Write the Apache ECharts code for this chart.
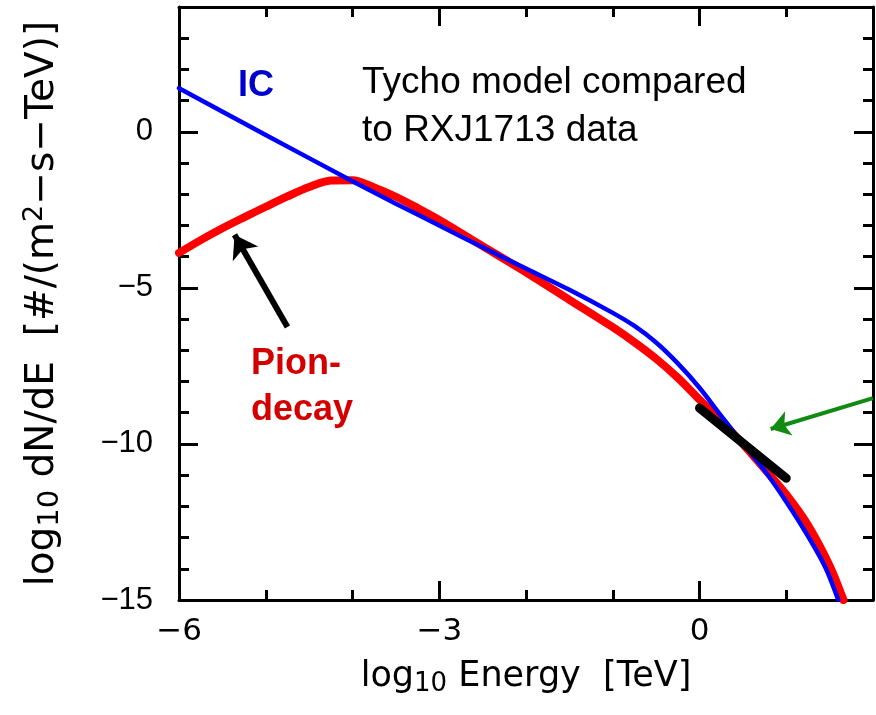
<!DOCTYPE html>
<html>
<head>
<meta charset="utf-8">
<script src="https://cdn.jsdelivr.net/npm/echarts@6/dist/echarts.min.js"></script>
<style>
  html, body { margin: 0; padding: 0; background: #fff; }
  #chart { width: 876px; height: 715px; }
</style>
</head>
<body>
<div id="chart"></div>
<script>
// Inverse-Compton spectrum: log10 E [TeV] vs log10 dN/dE
const icLogE = [-6.0, -5.0, -4.0, -3.5, -3.0, -2.5, -2.0, -1.5, -1.0, -0.75, -0.5, -0.25, 0.0, 0.25, 0.5, 0.75, 1.0, 1.25, 1.45, 1.6];
const icLogFlux = [1.40, -0.10, -1.58, -2.30, -3.00, -3.70, -4.38, -5.06, -5.80, -6.22, -6.75, -7.42, -8.20, -9.10, -9.98, -10.85, -11.85, -12.95, -13.95, -15.0];

// Pion-decay spectrum
const pionLogE = [-6.0, -5.75, -5.5, -5.25, -5.0, -4.75, -4.5, -4.25, -4.0, -3.75, -3.5, -3.25, -3.0, -2.5, -2.0, -1.5, -1.0, -0.75, -0.5, -0.25, 0.0, 0.25, 0.5, 0.75, 1.0, 1.25, 1.5, 1.66];
const pionLogFlux = [-3.88, -3.47, -3.09, -2.74, -2.40, -2.07, -1.77, -1.56, -1.55, -1.78, -2.08, -2.44, -2.82, -3.66, -4.50, -5.38, -6.26, -6.74, -7.27, -7.88, -8.58, -9.28, -10.0, -10.8, -11.62, -12.6, -13.9, -15.0];

// RXJ1713 measured power-law segment
const dataLogE = [0.0, 1.0];
const dataLogFlux = [-8.85, -11.1];

// Pointer arrows (tail, head) in axis units
const pionArrow = [[-4.75, -6.25], [-5.36, -3.30]];
const dataArrow = [[2.0, -8.53], [0.82, -9.52]];

// Axis ranges and labelled ticks
const xRange = [-6, 2];
const yRange = [-15, 4];
const xLabelTicks = [-6, -3, 0];
const yLabelTicks = [-15, -10, -5, 0];

const pairs = (xs, ys) => xs.map((x, i) => [x, ys[i]]);
const minus = v => String(v).replace('-', '\u2212');

const FONT = 'Liberation Sans, Arial, sans-serif';
const TITLE_FONT = 'DejaVu Sans, sans-serif';
const AXIS_W = 3;

function xAxisDef(position, interval, tickLen, showLine, showLabel) {
  return {
    type: 'value', position, min: xRange[0], max: xRange[1], interval,
    axisLine: { show: showLine, onZero: false, lineStyle: { color: '#000', width: AXIS_W } },
    axisTick: { show: true, inside: true, length: tickLen, lineStyle: { color: '#000', width: AXIS_W } },
    axisLabel: {
      show: showLabel, margin: 16, color: '#000', fontSize: 31, fontFamily: TITLE_FONT,
      formatter: v => (xLabelTicks.indexOf(v) >= 0 ? minus(v) : '')
    },
    splitLine: { show: false }
  };
}
function yAxisDef(position, interval, tickLen, showLine, showLabel) {
  return {
    type: 'value', position, min: yRange[0], max: yRange[1], interval,
    axisLine: { show: showLine, onZero: false, lineStyle: { color: '#000', width: AXIS_W } },
    axisTick: { show: true, inside: true, length: tickLen, lineStyle: { color: '#000', width: AXIS_W } },
    axisLabel: {
      show: showLabel, margin: 26, color: '#000', fontSize: 31, fontFamily: FONT,
      formatter: v => (yLabelTicks.indexOf(v) >= 0 ? minus(v) : '')
    },
    splitLine: { show: false }
  };
}

const xMain = xAxisDef('bottom', 3, 19, false, true);
xMain.name = '{a|log}{s|10}{a| Energy  [TeV]}';
xMain.nameLocation = 'middle';
xMain.nameGap = 57;
xMain.nameTextStyle = {
  color: '#000', fontFamily: TITLE_FONT, fontSize: 35,
  rich: {
    a: { fontFamily: TITLE_FONT, fontSize: 35, lineHeight: 40, color: '#000' },
    s: { fontFamily: TITLE_FONT, fontSize: 26, lineHeight: 26, verticalAlign: 'bottom', color: '#000' }
  }
};

const yMain = yAxisDef('left', 5, 19, false, true);
yMain.name = '{a|log}{s|10}{a| dN/dE  [#/(m}{p|2}{a|\u2212s\u2212TeV)]}';
yMain.nameLocation = 'middle';
yMain.nameGap = 114;
yMain.nameTextStyle = {
  color: '#000', fontFamily: TITLE_FONT, fontSize: 39,
  rich: {
    a: { fontFamily: TITLE_FONT, fontSize: 39, lineHeight: 44, color: '#000' },
    s: { fontFamily: TITLE_FONT, fontSize: 29, lineHeight: 29, verticalAlign: 'bottom', color: '#000' },
    p: { fontFamily: TITLE_FONT, fontSize: 27, lineHeight: 23, verticalAlign: 'top', color: '#000' }
  }
};

const chart = echarts.init(document.getElementById('chart'), null, { renderer: 'canvas' });

chart.setOption({
  animation: false,
  backgroundColor: '#fff',
  grid: { left: 179, right: 3, top: 7, bottom: 115, containLabel: false },
  xAxis: [
    xAxisDef('bottom', 1, 10, true, false),
    xMain,
    xAxisDef('top', 1, 10, true, false),
    xAxisDef('top', 3, 19, false, false)
  ],
  yAxis: [
    yAxisDef('left', 1, 10, true, false),
    yMain,
    yAxisDef('right', 1, 10, true, false),
    yAxisDef('right', 5, 19, false, false)
  ],
  series: [
    {
      name: 'Pion-decay', type: 'line', xAxisIndex: 0, yAxisIndex: 0,
      data: pairs(pionLogE, pionLogFlux), smooth: 0.3, symbol: 'none', z: 2,
      lineStyle: { color: '#ff0000', width: 8, cap: 'round', join: 'round' }
    },
    {
      name: 'IC', type: 'line', xAxisIndex: 0, yAxisIndex: 0,
      data: pairs(icLogE, icLogFlux), smooth: 0.3, symbol: 'none', z: 3,
      lineStyle: { color: '#0000ff', width: 4.5, cap: 'round', join: 'round' }
    },
    {
      name: 'RXJ1713', type: 'line', xAxisIndex: 0, yAxisIndex: 0,
      data: pairs(dataLogE, dataLogFlux), symbol: 'none', z: 4,
      lineStyle: { color: '#000', width: 9, cap: 'round' }
    },
    {
      type: 'lines', coordinateSystem: 'cartesian2d', xAxisIndex: 0, yAxisIndex: 0, z: 5,
      symbol: ['none', 'arrow'], symbolSize: 22,
      lineStyle: { color: '#000', width: 6, opacity: 1, curveness: 0 },
      data: [{ coords: pionArrow }]
    },
    {
      type: 'lines', coordinateSystem: 'cartesian2d', xAxisIndex: 0, yAxisIndex: 0, z: 5,
      symbol: ['none', 'arrow'], symbolSize: 19,
      lineStyle: { color: '#108a10', width: 4, opacity: 1, curveness: 0 },
      data: [{ coords: dataArrow }]
    }
  ],
  graphic: [
    { type: 'text', left: 238, top: 68, z: 10,
      style: { text: 'IC', font: 'bold 36px ' + FONT, fill: '#0000cc' } },
    { type: 'text', left: 362, top: 59, z: 10,
      style: { text: 'Tycho model compared\nto RXJ1713 data', font: '37px ' + FONT, fill: '#000', lineHeight: 48 } },
    { type: 'text', left: 251, top: 341, z: 10,
      style: { text: 'Pion-\ndecay', font: 'bold 36px ' + FONT, fill: '#d40000', lineHeight: 46 } }
  ]
});
</script>
</body>
</html>
